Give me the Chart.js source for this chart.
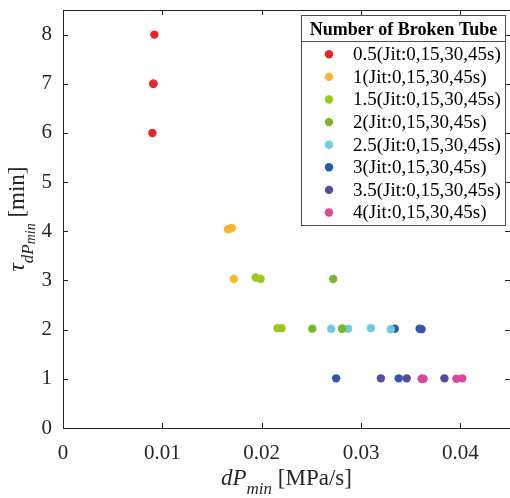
<!DOCTYPE html>
<html>
<head>
<meta charset="utf-8">
<script src="https://cdn.jsdelivr.net/npm/chart.js@4"></script>
<style>
  body { margin: 0; background: #fff; }
  #wrap { width: 510px; height: 498px; }
</style>
</head>
<body>
<div id="wrap"><canvas id="myChart"></canvas></div>
<script>
'use strict';

// ******** DATA **********

let seriesNames = ['0.5(Jit:0,15,30,45s)', '1(Jit:0,15,30,45s)', '1.5(Jit:0,15,30,45s)', '2(Jit:0,15,30,45s)',
  '2.5(Jit:0,15,30,45s)', '3(Jit:0,15,30,45s)', '3.5(Jit:0,15,30,45s)', '4(Jit:0,15,30,45s)'];
let seriesColors = ['#e6282b', '#fdb52b', '#9bc81e', '#76b82a', '#70cae0', '#2b5aa9', '#5a4a9c', '#d9479b'];

// dP_min [MPa/s] and tau [min] for each number of broken tubes
let dp05 = [0.0092, 0.0091, 0.0091, 0.0090];
let tau05 = [8.0, 7.0, 7.0, 6.0];
let dp10 = [0.0166, 0.0168, 0.0170, 0.0172];
let tau10 = [4.04, 4.05, 4.07, 3.03];
let dp15 = [0.0194, 0.0199, 0.0216, 0.0220];
let tau15 = [3.06, 3.03, 2.03, 2.03];
let dp20 = [0.0251, 0.0272, 0.0281, 0.0281];
let tau20 = [2.02, 3.03, 2.02, 2.02];
let dp25 = [0.0270, 0.0287, 0.0310, 0.0330];
let tau25 = [2.02, 2.02, 2.03, 2.01];
let dp30 = [0.0334, 0.0359, 0.0275, 0.0338];
let tau30 = [2.02, 2.02, 1.01, 1.01];
let dp35 = [0.0361, 0.0320, 0.0346, 0.0384];
let tau35 = [2.01, 1.01, 1.01, 1.01];
let dp40 = [0.0361, 0.0363, 0.0396, 0.0402];
let tau40 = [1.0, 1.0, 1.0, 1.01];

let xSeries = [dp05, dp10, dp15, dp20, dp25, dp30, dp35, dp40];
let ySeries = [tau05, tau10, tau15, tau20, tau25, tau30, tau35, tau40];

let xTicks = [0, 0.01, 0.02, 0.03, 0.04];
let yTicks = [0, 1, 2, 3, 4, 5, 6, 7, 8];

let legendTitle = 'Number of Broken Tube';

// ********** STYLE **********

let axisColor = '#262626';
let serif = '"Liberation Serif", "Times New Roman", serif';

// ********** DATASETS **********

let datasets = [];
for (let i = 0; i < seriesNames.length; i++) {
  let pts = [];
  for (let j = 0; j < xSeries[i].length; j++) {
    pts.push({ x: xSeries[i][j], y: ySeries[i][j] });
  }
  datasets.push({
    label: seriesNames[i],
    data: pts,
    backgroundColor: seriesColors[i],
    borderWidth: 0,
    pointRadius: 4.2,
    pointHoverRadius: 4.2
  });
}

// ********** HELPERS **********

function drawRich(ctx, segs, cx, baseY) {
  let total = 0;
  segs.forEach(s => { ctx.font = s.font; total += ctx.measureText(s.text).width; });
  let x = cx - total / 2;
  ctx.textAlign = 'left';
  ctx.textBaseline = 'alphabetic';
  segs.forEach(s => {
    ctx.font = s.font;
    ctx.fillText(s.text, x, baseY + (s.dy || 0));
    x += ctx.measureText(s.text).width;
  });
}

let framePlugin = {
  id: 'frame',
  afterDraw(chart) {
    let ctx = chart.ctx;
    let a = chart.chartArea;
    let xs = chart.scales.x;
    let ys = chart.scales.y;
    ctx.save();
    ctx.strokeStyle = axisColor;
    ctx.lineWidth = 1;
    ctx.beginPath();
    ctx.rect(a.left + 0.5, a.top + 0.5, a.right - a.left, a.bottom - a.top);
    ctx.stroke();

    // inward ticks on all four sides
    let tl = 5;
    ctx.beginPath();
    xTicks.forEach(v => {
      let px = Math.round(xs.getPixelForValue(v)) + 0.5;
      ctx.moveTo(px, a.bottom); ctx.lineTo(px, a.bottom - tl);
      ctx.moveTo(px, a.top); ctx.lineTo(px, a.top + tl);
    });
    yTicks.forEach(v => {
      let py = Math.round(ys.getPixelForValue(v)) + 0.5;
      ctx.moveTo(a.left, py); ctx.lineTo(a.left + tl, py);
      ctx.moveTo(a.right, py); ctx.lineTo(a.right - tl, py);
    });
    ctx.stroke();

    // axis titles
    ctx.fillStyle = axisColor;
    let cx = (a.left + a.right) / 2;
    drawRich(ctx, [
      { text: 'dP', font: 'italic 23px ' + serif },
      { text: 'min', font: 'italic 17px ' + serif, dy: 9 },
      { text: ' [MPa/s]', font: '23px ' + serif }
    ], cx, 485);

    ctx.save();
    ctx.translate(24, (a.top + a.bottom) / 2);
    ctx.rotate(-Math.PI / 2);
    drawRich(ctx, [
      { text: '\u03c4', font: 'italic 23px ' + serif },
      { text: 'dP', font: 'italic 17px ' + serif, dy: 9 },
      { text: 'min', font: 'italic 14px ' + serif, dy: 11 },
      { text: ' [min]', font: '23px ' + serif }
    ], 0, 0);
    ctx.restore();

    // legend box
    let bx = 301.5, by = 15.5, bw = 204, bh = 210;
    ctx.fillStyle = '#fff';
    ctx.fillRect(bx, by, bw, bh);
    ctx.strokeStyle = '#4d4d4d';
    ctx.strokeRect(bx, by, bw, bh);
    ctx.beginPath();
    ctx.moveTo(bx, 41.5); ctx.lineTo(bx + bw, 41.5);
    ctx.stroke();

    ctx.fillStyle = '#000';
    ctx.font = 'bold 18px ' + serif;
    ctx.textAlign = 'center';
    ctx.textBaseline = 'alphabetic';
    ctx.fillText(legendTitle, bx + bw / 2, 35);

    ctx.font = '19px ' + serif;
    ctx.textAlign = 'left';
    ctx.textBaseline = 'middle';
    chart.data.datasets.forEach((ds, i) => {
      let ry = 54.3 + i * 22.6;
      ctx.fillStyle = ds.backgroundColor;
      ctx.beginPath();
      ctx.arc(329, ry, 4.2, 0, Math.PI * 2);
      ctx.fill();
      ctx.fillStyle = '#000';
      ctx.fillText(ds.label, 353, ry + 1);
    });
    ctx.restore();
  }
};

// ********** CHART **********

let ctx = document.getElementById('myChart').getContext('2d');

new Chart(ctx, {
  type: 'scatter',
  data: { datasets: datasets },
  options: {
    responsive: true,
    maintainAspectRatio: false,
    animation: false,
    layout: { autoPadding: false, padding: { top: 10, right: 0, left: 0, bottom: 0 } },
    plugins: {
      legend: { display: false },
      tooltip: { enabled: false }
    },
    scales: {
      x: {
        type: 'linear',
        min: 0,
        max: 0.045,
        afterFit: s => { s.height = 70; s.paddingLeft = 0; s.paddingRight = 0; },
        grid: { display: false, drawTicks: false },
        border: { display: false },
        ticks: {
          stepSize: 0.01,
          includeBounds: false,
          padding: 13,
          color: axisColor,
          font: { family: serif, size: 21 },
          callback: v => (v === 0 ? '0' : v.toFixed(2))
        }
      },
      y: {
        type: 'linear',
        min: 0,
        max: 8.5,
        afterFit: s => { s.width = 63; s.paddingTop = 0; s.paddingBottom = 0; },
        grid: { display: false, drawTicks: false },
        border: { display: false },
        ticks: {
          stepSize: 1,
          includeBounds: false,
          padding: 11,
          color: axisColor,
          font: { family: serif, size: 21 }
        }
      }
    }
  },
  plugins: [framePlugin]
});
</script>
</body>
</html>
